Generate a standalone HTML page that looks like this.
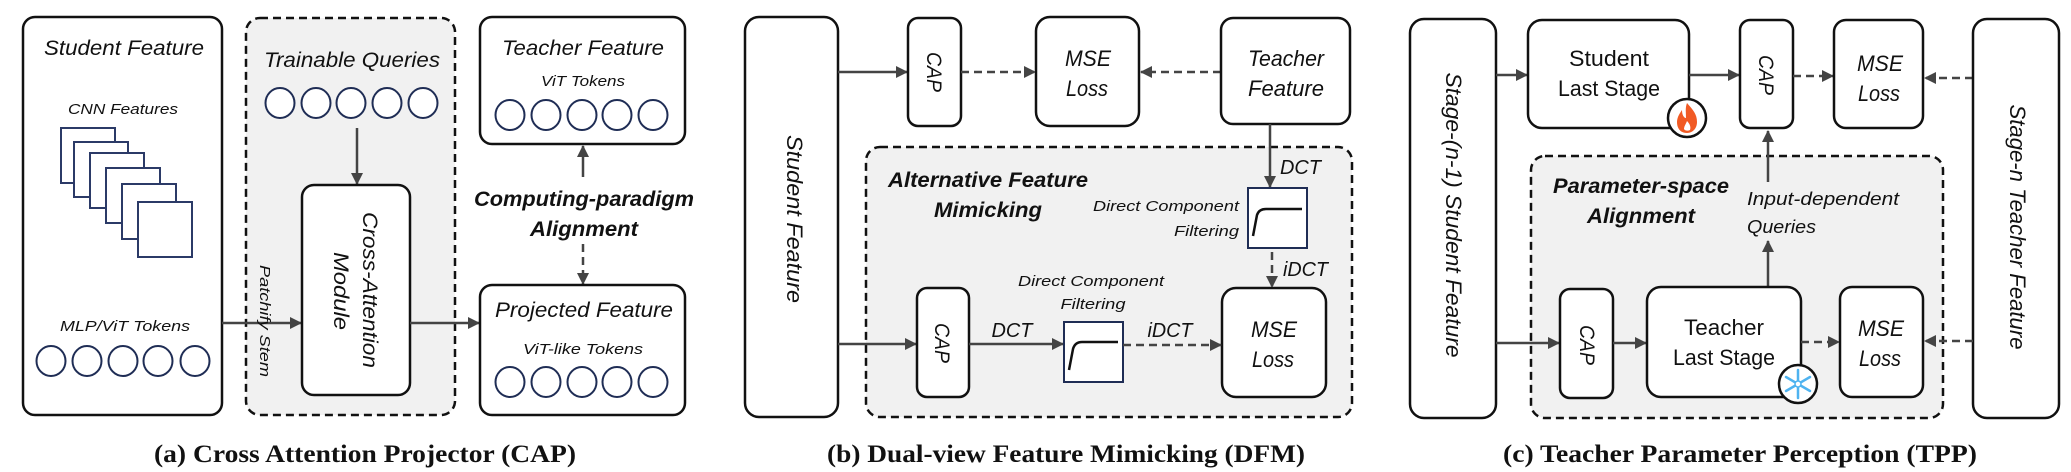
<!DOCTYPE html>
<html><head><meta charset="utf-8"><style>
html,body{margin:0;padding:0;background:#fff;}
svg{display:block;}
text{font-family:"Liberation Sans",sans-serif;fill:#111;}
.i{font-style:italic;}
.b{font-weight:bold;}
.cap{font-family:"Liberation Serif",serif;font-weight:bold;font-size:25px;}
</style></head><body>
<svg width="2071" height="472" viewBox="0 0 2071 472" xmlns="http://www.w3.org/2000/svg">
<defs>
<marker id="ah" viewBox="0 0 12 12" refX="11" refY="6" markerWidth="12" markerHeight="12" markerUnits="userSpaceOnUse" orient="auto">
<path d="M0,0 L12,6 L0,12 z" fill="#444"/></marker>
</defs>
<g fill="none" stroke="#444" stroke-width="2.5"></g>

<!-- ===== Panel (a) ===== -->
<rect x="23" y="17" width="199" height="398" rx="12" fill="#fff" stroke="#111" stroke-width="2.5"/>
<text x="124" y="55" class="i" font-size="21" text-anchor="middle" textLength="160" lengthAdjust="spacingAndGlyphs">Student Feature</text>
<text x="123" y="114" class="i" font-size="15" text-anchor="middle" textLength="110" lengthAdjust="spacingAndGlyphs">CNN Features</text>
<g fill="#fff" stroke="#2b3a67" stroke-width="2">
<rect x="61" y="128" width="54" height="55"/>
<rect x="74" y="142" width="54" height="55"/>
<rect x="90" y="153" width="54" height="55"/>
<rect x="106" y="168" width="54" height="55"/>
<rect x="122" y="184" width="54" height="55"/>
<rect x="138" y="202" width="54" height="55"/>
</g>
<text x="125" y="331" class="i" font-size="15" text-anchor="middle" textLength="130" lengthAdjust="spacingAndGlyphs">MLP/ViT Tokens</text>
<g fill="#fff" stroke="#1f2d55" stroke-width="2">
<ellipse cx="51" cy="361" rx="14.5" ry="15"/><ellipse cx="87" cy="361" rx="14.5" ry="15"/><ellipse cx="123" cy="361" rx="14.5" ry="15"/><ellipse cx="158" cy="361" rx="14.5" ry="15"/><ellipse cx="195" cy="361" rx="14.5" ry="15"/>
</g>

<rect x="246" y="18" width="209" height="397" rx="14" fill="#f1f1f1" stroke="#111" stroke-width="2.5" stroke-dasharray="8,5"/>
<text x="352" y="67" class="i" font-size="21" text-anchor="middle" textLength="176" lengthAdjust="spacingAndGlyphs">Trainable Queries</text>
<g fill="#fff" stroke="#1f2d55" stroke-width="2">
<ellipse cx="280" cy="103" rx="14.5" ry="15"/><ellipse cx="316" cy="103" rx="14.5" ry="15"/><ellipse cx="351" cy="103" rx="14.5" ry="15"/><ellipse cx="387" cy="103" rx="14.5" ry="15"/><ellipse cx="423" cy="103" rx="14.5" ry="15"/>
</g>
<line x1="357" y1="128" x2="357" y2="184" stroke="#444" stroke-width="2.5" marker-end="url(#ah)"/>
<line x1="222" y1="323" x2="301" y2="323" stroke="#444" stroke-width="2.5" marker-end="url(#ah)"/>
<rect x="302" y="185" width="108" height="210" rx="12" fill="#fff" stroke="#111" stroke-width="2.5"/>
<text transform="translate(363,290) rotate(90)" class="i" font-size="21" text-anchor="middle" textLength="156" lengthAdjust="spacingAndGlyphs">Cross-Attention</text>
<text transform="translate(334,291) rotate(90)" class="i" font-size="21" text-anchor="middle" textLength="78" lengthAdjust="spacingAndGlyphs">Module</text>
<text transform="translate(260,321) rotate(90)" class="i" font-size="15" text-anchor="middle" textLength="112" lengthAdjust="spacingAndGlyphs">Patchify Stem</text>
<line x1="410" y1="323" x2="479" y2="323" stroke="#444" stroke-width="2.5" marker-end="url(#ah)"/>

<rect x="480" y="17" width="205" height="127" rx="12" fill="#fff" stroke="#111" stroke-width="2.5"/>
<text x="583" y="55" class="i" font-size="21" text-anchor="middle" textLength="162" lengthAdjust="spacingAndGlyphs">Teacher Feature</text>
<text x="583" y="86" class="i" font-size="15" text-anchor="middle" textLength="84" lengthAdjust="spacingAndGlyphs">ViT Tokens</text>
<g fill="#fff" stroke="#1f2d55" stroke-width="2">
<ellipse cx="510" cy="115" rx="14.5" ry="15"/><ellipse cx="546" cy="115" rx="14.5" ry="15"/><ellipse cx="582" cy="115" rx="14.5" ry="15"/><ellipse cx="617" cy="115" rx="14.5" ry="15"/><ellipse cx="653" cy="115" rx="14.5" ry="15"/>
</g>
<line x1="583" y1="177" x2="583" y2="146" stroke="#444" stroke-width="2.5" marker-end="url(#ah)"/>
<text x="584" y="206" class="i b" font-size="21" text-anchor="middle" textLength="220" lengthAdjust="spacingAndGlyphs">Computing-paradigm</text>
<text x="584" y="236" class="i b" font-size="21" text-anchor="middle" textLength="108" lengthAdjust="spacingAndGlyphs">Alignment</text>
<line x1="583" y1="244" x2="583" y2="284" stroke="#444" stroke-width="2.5" stroke-dasharray="8,5" marker-end="url(#ah)"/>
<rect x="480" y="285" width="205" height="130" rx="12" fill="#fff" stroke="#111" stroke-width="2.5"/>
<text x="584" y="317" class="i" font-size="21" text-anchor="middle" textLength="178" lengthAdjust="spacingAndGlyphs">Projected Feature</text>
<text x="583" y="354" class="i" font-size="15" text-anchor="middle" textLength="120" lengthAdjust="spacingAndGlyphs">ViT-like Tokens</text>
<g fill="#fff" stroke="#1f2d55" stroke-width="2">
<ellipse cx="510" cy="382" rx="14.5" ry="15"/><ellipse cx="546" cy="382" rx="14.5" ry="15"/><ellipse cx="582" cy="382" rx="14.5" ry="15"/><ellipse cx="617" cy="382" rx="14.5" ry="15"/><ellipse cx="653" cy="382" rx="14.5" ry="15"/>
</g>
<text x="365" y="462" class="cap" text-anchor="middle" textLength="422" lengthAdjust="spacingAndGlyphs">(a) Cross Attention Projector (CAP)</text>

<!-- ===== Panel (b) ===== -->
<rect x="745" y="17" width="93" height="400" rx="14" fill="#fff" stroke="#111" stroke-width="2.5"/>
<text transform="translate(787,219) rotate(90)" class="i" font-size="22" text-anchor="middle" textLength="168" lengthAdjust="spacingAndGlyphs">Student  Feature</text>
<line x1="838" y1="72" x2="907" y2="72" stroke="#444" stroke-width="2.5" marker-end="url(#ah)"/>
<rect x="908" y="18" width="53" height="108" rx="10" fill="#fff" stroke="#111" stroke-width="2.5"/>
<text transform="translate(927,72) rotate(90)" class="i" font-size="21" text-anchor="middle" textLength="40" lengthAdjust="spacingAndGlyphs">CAP</text>
<line x1="961" y1="72" x2="1035" y2="72" stroke="#444" stroke-width="2.5" stroke-dasharray="8,5" marker-end="url(#ah)"/>
<rect x="1036" y="17" width="103" height="109" rx="14" fill="#fff" stroke="#111" stroke-width="2.5"/>
<text x="1088" y="66" class="i" font-size="22" text-anchor="middle" textLength="46" lengthAdjust="spacingAndGlyphs">MSE</text>
<text x="1087" y="96" class="i" font-size="22" text-anchor="middle" textLength="42" lengthAdjust="spacingAndGlyphs">Loss</text>
<line x1="1221" y1="72" x2="1141" y2="72" stroke="#444" stroke-width="2.5" stroke-dasharray="8,5" marker-end="url(#ah)"/>
<rect x="1221" y="18" width="129" height="106" rx="12" fill="#fff" stroke="#111" stroke-width="2.5"/>
<text x="1286" y="66" class="i" font-size="22" text-anchor="middle" textLength="76" lengthAdjust="spacingAndGlyphs">Teacher</text>
<text x="1286" y="96" class="i" font-size="22" text-anchor="middle" textLength="76" lengthAdjust="spacingAndGlyphs">Feature</text>

<rect x="866" y="147" width="486" height="270" rx="14" fill="#f1f1f1" stroke="#111" stroke-width="2.5" stroke-dasharray="8,5"/>
<text x="988" y="187" class="i b" font-size="21" text-anchor="middle" textLength="200" lengthAdjust="spacingAndGlyphs">Alternative Feature</text>
<text x="988" y="217" class="i b" font-size="21" text-anchor="middle" textLength="108" lengthAdjust="spacingAndGlyphs">Mimicking</text>
<line x1="1270" y1="124" x2="1270" y2="187" stroke="#444" stroke-width="2.5" marker-end="url(#ah)"/>
<text x="1280" y="174" class="i" font-size="20" textLength="41" lengthAdjust="spacingAndGlyphs">DCT</text>
<text x="1239" y="211" class="i" font-size="15" text-anchor="end" textLength="146" lengthAdjust="spacingAndGlyphs">Direct Component</text>
<text x="1239" y="236" class="i" font-size="15" text-anchor="end" textLength="65" lengthAdjust="spacingAndGlyphs">Filtering</text>
<rect x="1248" y="188" width="59" height="60" fill="#fff" stroke="#1f2d55" stroke-width="2"/>
<path d="M1253,236 L1257,215 Q1259,209 1266,209 L1302,209" fill="none" stroke="#111" stroke-width="2.5"/>
<line x1="1272" y1="252" x2="1272" y2="287" stroke="#444" stroke-width="2.5" stroke-dasharray="8,5" marker-end="url(#ah)"/>
<text x="1283" y="276" class="i" font-size="20" textLength="45" lengthAdjust="spacingAndGlyphs">iDCT</text>
<rect x="1222" y="288" width="104" height="109" rx="14" fill="#fff" stroke="#111" stroke-width="2.5"/>
<text x="1274" y="337" class="i" font-size="22" text-anchor="middle" textLength="46" lengthAdjust="spacingAndGlyphs">MSE</text>
<text x="1273" y="367" class="i" font-size="22" text-anchor="middle" textLength="42" lengthAdjust="spacingAndGlyphs">Loss</text>

<line x1="838" y1="344" x2="916" y2="344" stroke="#444" stroke-width="2.5" marker-end="url(#ah)"/>
<rect x="917" y="288" width="52" height="109" rx="10" fill="#fff" stroke="#111" stroke-width="2.5"/>
<text transform="translate(935,343) rotate(90)" class="i" font-size="21" text-anchor="middle" textLength="40" lengthAdjust="spacingAndGlyphs">CAP</text>
<text x="1012" y="337" class="i" font-size="20" text-anchor="middle" textLength="41" lengthAdjust="spacingAndGlyphs">DCT</text>
<line x1="969" y1="344" x2="1063" y2="344" stroke="#444" stroke-width="2.5" marker-end="url(#ah)"/>
<text x="1091" y="286" class="i" font-size="15" text-anchor="middle" textLength="146" lengthAdjust="spacingAndGlyphs">Direct Component</text>
<text x="1093" y="309" class="i" font-size="15" text-anchor="middle" textLength="65" lengthAdjust="spacingAndGlyphs">Filtering</text>
<rect x="1064" y="322" width="59" height="60" fill="#fff" stroke="#1f2d55" stroke-width="2"/>
<path d="M1069,370 L1073,349 Q1075,342 1082,342 L1118,342" fill="none" stroke="#111" stroke-width="2.5"/>
<text x="1170" y="337" class="i" font-size="20" text-anchor="middle" textLength="45" lengthAdjust="spacingAndGlyphs">iDCT</text>
<line x1="1123" y1="345" x2="1221" y2="345" stroke="#444" stroke-width="2.5" stroke-dasharray="8,5" marker-end="url(#ah)"/>
<text x="1066" y="462" class="cap" text-anchor="middle" textLength="478" lengthAdjust="spacingAndGlyphs">(b) Dual-view Feature Mimicking (DFM)</text>

<!-- ===== Panel (c) ===== -->
<rect x="1410" y="19" width="86" height="399" rx="14" fill="#fff" stroke="#111" stroke-width="2.5"/>
<text transform="translate(1446,215) rotate(90)" class="i" font-size="22" text-anchor="middle" textLength="285" lengthAdjust="spacingAndGlyphs">Stage-(n-1)  Student Feature</text>
<line x1="1496" y1="75" x2="1527" y2="75" stroke="#444" stroke-width="2.5" marker-end="url(#ah)"/>
<rect x="1528" y="20" width="161" height="108" rx="14" fill="#fff" stroke="#111" stroke-width="2.5"/>
<text x="1609" y="66" font-size="22" text-anchor="middle" textLength="80" lengthAdjust="spacingAndGlyphs">Student</text>
<text x="1609" y="96" font-size="22" text-anchor="middle" textLength="102" lengthAdjust="spacingAndGlyphs">Last Stage</text>
<circle cx="1687" cy="118" r="19" fill="#fff" stroke="#111" stroke-width="2.5"/>
<path d="M1687,103 C1693,110 1697,114 1697,122 C1697,129 1692,133 1687,133 C1681,133 1677,129 1677,122 C1677,117 1680,113 1682,110 C1682,115 1684,118 1686,118 C1686,113 1685,108 1687,103 z" fill="#f15a24"/>
<path d="M1687,121 C1690,124 1691,127 1690,130 C1688,131 1685,131 1684,129 C1684,126 1686,124 1687,121 z" fill="#fff"/>
<line x1="1689" y1="75" x2="1739" y2="75" stroke="#444" stroke-width="2.5" marker-end="url(#ah)"/>
<rect x="1740" y="20" width="53" height="108" rx="10" fill="#fff" stroke="#111" stroke-width="2.5"/>
<text transform="translate(1759,75) rotate(90)" class="i" font-size="21" text-anchor="middle" textLength="40" lengthAdjust="spacingAndGlyphs">CAP</text>
<line x1="1793" y1="76" x2="1833" y2="76" stroke="#444" stroke-width="2.5" stroke-dasharray="8,5" marker-end="url(#ah)"/>
<rect x="1834" y="20" width="89" height="108" rx="12" fill="#fff" stroke="#111" stroke-width="2.5"/>
<text x="1880" y="71" class="i" font-size="22" text-anchor="middle" textLength="46" lengthAdjust="spacingAndGlyphs">MSE</text>
<text x="1879" y="101" class="i" font-size="22" text-anchor="middle" textLength="42" lengthAdjust="spacingAndGlyphs">Loss</text>
<line x1="1973" y1="78" x2="1925" y2="78" stroke="#444" stroke-width="2.5" stroke-dasharray="8,5" marker-end="url(#ah)"/>
<rect x="1973" y="19" width="86" height="399" rx="14" fill="#fff" stroke="#111" stroke-width="2.5"/>
<text transform="translate(2010,227) rotate(90)" class="i" font-size="22" text-anchor="middle" textLength="245" lengthAdjust="spacingAndGlyphs">Stage-n Teacher Feature</text>

<rect x="1531" y="156" width="412" height="262" rx="14" fill="#f1f1f1" stroke="#111" stroke-width="2.5" stroke-dasharray="8,5"/>
<text x="1641" y="193" class="i b" font-size="21" text-anchor="middle" textLength="176" lengthAdjust="spacingAndGlyphs">Parameter-space</text>
<text x="1641" y="223" class="i b" font-size="21" text-anchor="middle" textLength="108" lengthAdjust="spacingAndGlyphs">Alignment</text>
<text x="1747" y="205" class="i" font-size="18" textLength="152" lengthAdjust="spacingAndGlyphs">Input-dependent</text>
<text x="1747" y="233" class="i" font-size="18" textLength="69" lengthAdjust="spacingAndGlyphs">Queries</text>
<line x1="1768" y1="182" x2="1768" y2="131" stroke="#444" stroke-width="2.5" marker-end="url(#ah)"/>
<line x1="1768" y1="287" x2="1768" y2="241" stroke="#444" stroke-width="2.5" marker-end="url(#ah)"/>
<line x1="1496" y1="343" x2="1559" y2="343" stroke="#444" stroke-width="2.5" marker-end="url(#ah)"/>
<rect x="1560" y="289" width="53" height="109" rx="10" fill="#fff" stroke="#111" stroke-width="2.5"/>
<text transform="translate(1580,345) rotate(90)" class="i" font-size="21" text-anchor="middle" textLength="40" lengthAdjust="spacingAndGlyphs">CAP</text>
<line x1="1613" y1="343" x2="1646" y2="343" stroke="#444" stroke-width="2.5" marker-end="url(#ah)"/>
<rect x="1647" y="287" width="154" height="110" rx="14" fill="#fff" stroke="#111" stroke-width="2.5"/>
<text x="1724" y="335" font-size="22" text-anchor="middle" textLength="80" lengthAdjust="spacingAndGlyphs">Teacher</text>
<text x="1724" y="365" font-size="22" text-anchor="middle" textLength="102" lengthAdjust="spacingAndGlyphs">Last Stage</text>
<line x1="1801" y1="342" x2="1839" y2="342" stroke="#444" stroke-width="2.5" stroke-dasharray="8,5" marker-end="url(#ah)"/>
<circle cx="1798" cy="384" r="19" fill="#fff" stroke="#111" stroke-width="2.5"/>
<g stroke="#4fb3f0" stroke-width="2.5" stroke-linecap="round">
<line x1="1798" y1="370" x2="1798" y2="398"/>
<line x1="1786" y1="377" x2="1810" y2="391"/>
<line x1="1786" y1="391" x2="1810" y2="377"/>
</g>
<circle cx="1798" cy="384" r="3" fill="#fff" stroke="#4fb3f0" stroke-width="1.5"/>
<rect x="1840" y="287" width="83" height="110" rx="12" fill="#fff" stroke="#111" stroke-width="2.5"/>
<text x="1881" y="336" class="i" font-size="22" text-anchor="middle" textLength="46" lengthAdjust="spacingAndGlyphs">MSE</text>
<text x="1880" y="366" class="i" font-size="22" text-anchor="middle" textLength="42" lengthAdjust="spacingAndGlyphs">Loss</text>
<line x1="1973" y1="341" x2="1925" y2="341" stroke="#444" stroke-width="2.5" stroke-dasharray="8,5" marker-end="url(#ah)"/>
<text x="1740" y="462" class="cap" text-anchor="middle" textLength="474" lengthAdjust="spacingAndGlyphs">(c) Teacher Parameter Perception (TPP)</text>
</svg>
</body></html>
